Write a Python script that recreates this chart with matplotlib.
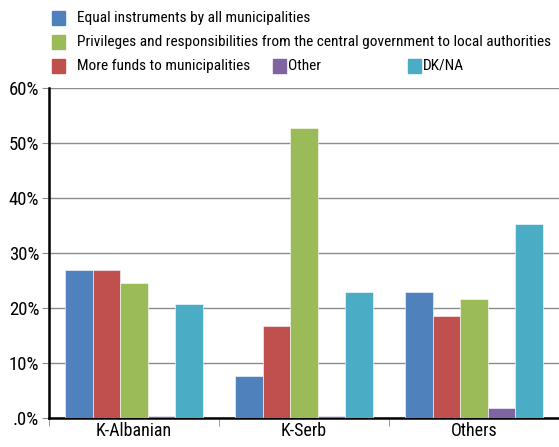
import matplotlib.pyplot as plt
import numpy as np
from matplotlib.patches import Rectangle
from matplotlib.ticker import FuncFormatter

groups = ["K-Albanian", "K-Serb", "Others"]
series = ["Equal instruments by all municipalities",
          "More funds to municipalities",
          "Privileges and responsibilities from the central government to local authorities",
          "Other",
          "DK/NA"]
colors = ["#4f81bd", "#c0504d", "#9bbb59", "#8064a2", "#4bacc6"]
values = [
    [26.9, 7.6, 22.9],    # equal instruments
    [26.9, 16.7, 18.5],   # more funds
    [24.5, 52.8, 21.6],   # privileges
    [0.4, 0.3, 1.8],      # other
    [20.7, 22.9, 35.2],   # DK/NA
]

plt.rcParams["font.family"] = ["Roboto Condensed", "DejaVu Sans"]

fig = plt.figure(figsize=(5.59, 4.47), dpi=100)
ax = fig.add_axes([49 / 559, 1 - 418 / 447, 510 / 559, 330 / 447])

x = np.arange(len(groups))
w = 0.162
for i, (vals, c) in enumerate(zip(values, colors)):
    ax.bar(x + (i - 2) * w, vals, w, color=c, edgecolor="white", linewidth=0.4, zorder=3)

ax.set_xlim(-0.5, 2.5)
ax.set_ylim(0, 60)
ax.set_yticks(range(0, 61, 10))
ax.yaxis.set_major_formatter(FuncFormatter(lambda v, p: ".0%" if v == 0 else f"{int(v)}%"))
ax.grid(axis="y", color="#8c8c8c", linewidth=1, zorder=0)
ax.set_xticks(x)
ax.set_xticklabels(groups)
ax.tick_params(axis="x", length=0, labelsize=13, pad=3)
ax.set_xticks([-0.5, 0.5, 1.5, 2.5], minor=True)
ax.tick_params(axis="x", which="minor", length=6, color="#8c8c8c")
ax.tick_params(axis="y", length=5, color="#8c8c8c", labelsize=13.5, pad=2)
for s in ["top", "right"]:
    ax.spines[s].set_visible(False)
ax.spines["left"].set_linewidth(1.8)
ax.spines["bottom"].set_linewidth(1.8)

# legend drawn by hand: two single rows then one row with three entries
legend_rows = [
    (0, 52, 18), (2, 52, 42), (1, 52, 66), (3, 273, 66), (4, 408, 66),
]
for idx, px, py in legend_rows:
    fig.patches.append(Rectangle((px / 559, 1 - (py + 7) / 447), 13 / 559, 14 / 447,
                                 color=colors[idx], transform=fig.transFigure))
    fig.text((px + 25 if px < 200 else px + 15) / 559, 1 - py / 447, series[idx],
             fontsize=11.1, va="center", ha="left")

fig.savefig("out.png", dpi=100)
